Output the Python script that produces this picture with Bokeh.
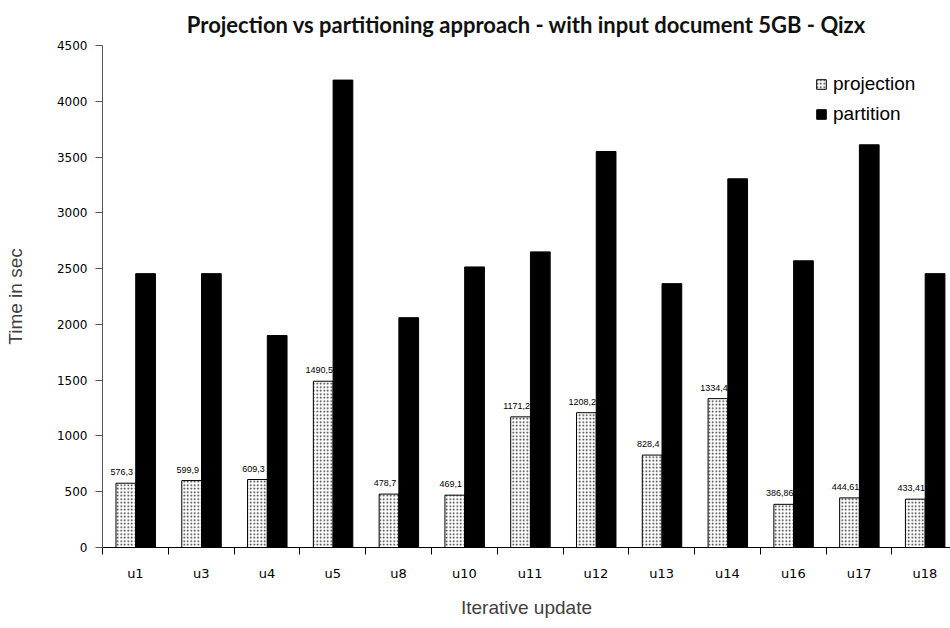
from bokeh.plotting import figure
from bokeh.models import Range1d, FixedTicker, Legend, LegendItem, ColumnDataSource, Title
from bokeh.transform import dodge
from bokeh.core.properties import value
from bokeh.embed import file_html
from bokeh.resources import INLINE

title_text = "Projection vs partitioning approach - with input document 5GB - Qizx"
categories = ["u1", "u3", "u4", "u5", "u8", "u10", "u11", "u12", "u13", "u14", "u16", "u17", "u18"]
projection = [576.3, 599.9, 609.3, 1490.5, 478.7, 469.1, 1171.2, 1208.2, 828.4, 1334.4, 386.86, 444.61, 433.41]
projection_labels = ["576,3", "599,9", "609,3", "1490,5", "478,7", "469,1", "1171,2", "1208,2", "828,4", "1334,4", "386,86", "444,61", "433,41"]
partition = [2455, 2455, 1900, 4190, 2060, 2515, 2650, 3550, 2365, 3305, 2570, 3610, 2455]
y_ticks = [0, 500, 1000, 1500, 2000, 2500, 3000, 3500, 4000, 4500]

xs = [i + 1 for i in range(len(categories))]
src = ColumnDataSource(dict(x=xs, proj=projection, part=partition, lab=projection_labels))

p = figure(width=950, height=628, output_backend="svg", toolbar_location=None,
           x_range=Range1d(0.5, 13.39), y_range=Range1d(0, 4500),
           min_border_left=102, min_border_right=0, min_border_top=45, min_border_bottom=81)
p.title = Title(text=title_text, align="center", text_font="Lato", text_font_size="22px",
                text_font_style="bold", text_color="#111111", standoff=16, offset=-4)
p.outline_line_color = None
p.xgrid.visible = False
p.ygrid.visible = False
p.background_fill_color = "white"
p.border_fill_color = "white"

r1 = p.vbar(x=dodge("x", -0.145, range=p.x_range), top="proj", width=0.3, source=src,
            fill_color="white", line_color="black", line_width=1,
            hatch_pattern="dot", hatch_color="black", hatch_scale=3.5, hatch_weight=1, hatch_alpha=0.85)
p.text(x=dodge("x", -0.145, range=p.x_range), y="proj", text="lab", source=src,
       text_font=value("Liberation Sans"), text_font_size="9px", text_align="center",
       text_baseline="bottom", x_offset=-4, y_offset=-8, text_color="black")
r2 = p.vbar(x=dodge("x", 0.155, range=p.x_range), top="part", width=0.3, source=src,
            fill_color="black", line_color="black")

# y axis
ya = p.yaxis[0]
ya.ticker = FixedTicker(ticks=y_ticks, minor_ticks=[])
ya.axis_label = "Time in sec"
ya.axis_label_text_font = "Liberation Sans"
ya.axis_label_text_font_size = "19px"
ya.axis_label_text_font_style = "normal"
ya.axis_label_text_color = "#404040"
ya.axis_label_standoff = 28
ya.major_label_text_font = "DejaVu Sans"
ya.major_label_text_font_size = "12px"
ya.major_label_text_color = "#000000"
ya.major_label_standoff = 8
ya.major_tick_out = 7
ya.major_tick_in = 0
ya.axis_line_color = "#555555"
ya.major_tick_line_color = "#555555"

# x axis
xa = p.xaxis[0]
boundaries = [x + 0.5 for x in [0] + xs]
xa.ticker = FixedTicker(ticks=xs, minor_ticks=boundaries)
xa.major_label_overrides = {x: c for x, c in zip(xs, categories)}
xa.major_tick_line_color = None
xa.major_tick_out = 0
xa.major_tick_in = 0
xa.minor_tick_line_color = "black"
xa.minor_tick_out = 7
xa.minor_tick_in = 0
xa.axis_line_color = "black"
xa.major_label_text_font = "DejaVu Sans"
xa.major_label_text_font_size = "13px"
xa.major_label_text_color = "#000000"
xa.major_label_standoff = 11
xa.axis_label = "Iterative update"
xa.axis_label_text_font = "Liberation Sans"
xa.axis_label_text_font_size = "19px"
xa.axis_label_text_font_style = "normal"
xa.axis_label_text_color = "#404040"
xa.axis_label_standoff = 13

legend = Legend(items=[LegendItem(label="projection", renderers=[r1]),
                       LegendItem(label="partition", renderers=[r2])],
                location=(713, 422), border_line_color=None, background_fill_alpha=0,
                padding=0, spacing=8, margin=0, glyph_width=12, glyph_height=12,
                label_height=22, label_standoff=6,
                label_text_font="Liberation Sans", label_text_font_size="19px",
                label_text_color="#000000")
p.add_layout(legend)

open("out.html", "w").write(file_html(p, INLINE))
